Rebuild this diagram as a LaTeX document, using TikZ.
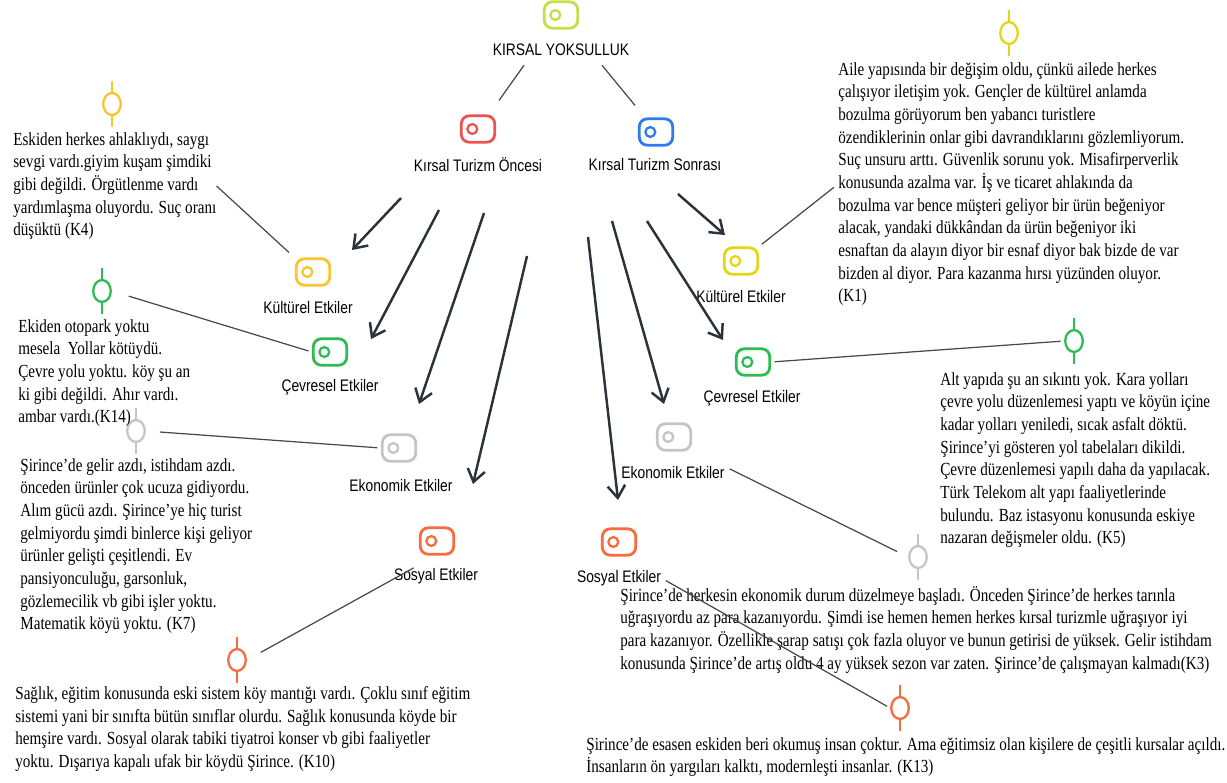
\documentclass[tikz,border=0pt]{standalone}
\usepackage{fontspec}
\setmainfont{Liberation Serif}[FakeStretch=0.82]
\setsansfont{Liberation Sans}[FakeStretch=0.83]
\usetikzlibrary{arrows.meta,shapes.geometric,calc,positioning}

\definecolor{rootc}{RGB}{196,222,72}
\definecolor{redc}{RGB}{236,82,82}
\definecolor{bluec}{RGB}{48,122,240}
\definecolor{ambc}{RGB}{250,196,42}
\definecolor{lemc}{RGB}{228,214,20}
\definecolor{grnc}{RGB}{44,188,82}
\definecolor{gryc}{RGB}{196,196,196}
\definecolor{orgc}{RGB}{246,108,62}
\definecolor{arrc}{RGB}{42,50,58}
\definecolor{linkc}{RGB}{72,72,72}

\tikzset{
  icon/.style={draw=#1, line width=1.6pt, rounded corners=4.5pt, minimum width=19pt, minimum height=15pt, inner sep=0pt,
    path picture={\draw[#1, line width=1.3pt] ($(path picture bounding box.west)+(11,0)$) circle (2.8pt);}},
  stud/.style={draw=#1, ellipse, line width=1.3pt, minimum width=10pt, minimum height=12.5pt, inner sep=0pt},
  lbl/.style={font=\sffamily\fontsize{9.5}{11}\selectfont, inner sep=0pt},
  note/.style={font=\fontsize{10.5}{12.9}\selectfont, align=left, anchor=north west, inner sep=0pt},
  link/.style={draw=linkc, line width=0.7pt},
  arr/.style={draw=arrc, line width=1.4pt, arrows={-Straight Barb[length=7pt,width=10pt]}},
}

\begin{document}
\begin{tikzpicture}[x=0.02cm, y=-0.02cm]
\useasboundingbox (0,0) rectangle (1227,782);

% top of the tree
\node[icon=rootc] (root) at (561,15) {};
\node[lbl] (rootT) at (561,50) {KIRSAL YOKSULLUK};
\node[icon=redc] (onc) at (478,129) {};
\node[lbl] (oncT) at (478,165) {Kırsal Turizm Öncesi};
\node[icon=bluec] (son) at (656,132) {};
\node[lbl] (sonT) at (655,165) {Kırsal Turizm Sonrası};
\draw[link] ($(rootT.south)+(-37,9)$) -- ($(onc.north)+(21,-14)$);
\draw[link] ($(rootT.south)+(41,9)$) -- ($(son.north)+(-21,-12)$);

% effects, left (oncesi) and right (sonrasi)
\foreach \n/\c/\x/\y/\lx/\ly/\t in {kulL/ambc/313/272/308/308/Kültürel Etkiler,
    cevL/grnc/330/352/330/387/Çevresel Etkiler,
    ekoL/gryc/399/448/401/486/Ekonomik Etkiler,
    sosL/orgc/437/541/436/576/Sosyal Etkiler,
    kulR/lemc/741/261/741/297/Kültürel Etkiler,
    cevR/grnc/753/362/752/398/Çevresel Etkiler,
    ekoR/gryc/674/437/673/473/Ekonomik Etkiler,
    sosR/orgc/619/542/619/578/Sosyal Etkiler}{
  \node[icon=\c] (\n) at (\x,\y) {};
  \node[lbl] (\n T) at (\lx,\ly) {\t};
}

% arrows
\foreach \i/\sx/\sy/\ex/\ey in {1/401/198/352/250, 2/439/210/371/339, 3/484/213/419/404, 4/527/256/473/484,
    5/678/194/725/235, 6/647/221/723/340, 7/612/221/664/404, 8/588/237/618/500}{
  \coordinate (s\i) at (\sx,\sy);
  \coordinate (e\i) at (\ex,\ey);
  \draw[arr] (s\i) -- (e\i);
}

% pins
\foreach \n/\c/\x/\y in {pYL/ambc/112/104, pGL/grnc/102/291, pEL/gryc/136/431, pOL/orgc/237/660,
    pYR/lemc/1009/33, pGR/grnc/1074/341, pER/gryc/918/557, pOR/orgc/900/708}{
  \node[stud=\c] (\n) at (\x,\y) {};
  \draw[\c, line width=1.3pt] (\n.north) -- ++(0,-11) (\n.south) -- ++(0,11);
}

% quotes
\node[note] (k4) at (13,132) {Eskiden herkes ahlaklıydı, saygı\\sevgi vardı.giyim kuşam şimdiki\\gibi değildi. Örgütlenme vardı\\yardımlaşma oluyordu. Suç oranı\\düşüktü (K4)};
\node[note] (k14) at (18,319) {Ekiden otopark yoktu\\mesela\ \ Yollar kötüydü.\\Çevre yolu yoktu. köy şu an\\ki gibi değildi. Ahır vardı.\\ambar vardı.(K14)};
\node[note] (k7) at (20,458) {Şirince’de gelir azdı, istihdam azdı.\\önceden ürünler çok ucuza gidiyordu.\\Alım gücü azdı. Şirince’ye hiç turist\\gelmiyordu şimdi binlerce kişi geliyor\\ürünler gelişti çeşitlendi. Ev\\pansiyonculuğu, garsonluk,\\gözlemecilik vb gibi işler yoktu.\\Matematik köyü yoktu. (K7)};
\node[note] (k10) at (15,686) {Sağlık, eğitim konusunda eski sistem köy mantığı vardı. Çoklu sınıf eğitim\\sistemi yani bir sınıfta bütün sınıflar olurdu. Sağlık konusunda köyde bir\\hemşire vardı. Sosyal olarak tabiki tiyatroi konser vb gibi faaliyetler\\yoktu. Dışarıya kapalı ufak bir köydü Şirince. (K10)};
\node[note] (k1) at (838,62) {Aile yapısında bir değişim oldu, çünkü ailede herkes\\çalışıyor iletişim yok. Gençler de kültürel anlamda\\bozulma görüyorum ben yabancı turistlere\\özendiklerinin onlar gibi davrandıklarını gözlemliyorum.\\Suç unsuru arttı. Güvenlik sorunu yok. Misafirperverlik\\konusunda azalma var. İş ve ticaret ahlakında da\\bozulma var bence müşteri geliyor bir ürün beğeniyor\\alacak, yandaki dükkândan da ürün beğeniyor iki\\esnaftan da alayın diyor bir esnaf diyor bak bizde de var\\bizden al diyor. Para kazanma hırsı yüzünden oluyor.\\(K1)};
\node[note] (k5) at (940,372) {Alt yapıda şu an sıkıntı yok. Kara yolları\\çevre yolu düzenlemesi yaptı ve köyün içine\\kadar yolları yeniledi, sıcak asfalt döktü.\\Şirince’yi gösteren yol tabelaları dikildi.\\Çevre düzenlemesi yapılı daha da yapılacak.\\Türk Telekom alt yapı faaliyetlerinde\\bulundu. Baz istasyonu konusunda eskiye\\nazaran değişmeler oldu. (K5)};
\node[note] (k3) at (620,586) {Şirince’de herkesin ekonomik durum düzelmeye başladı. Önceden Şirince’de herkes tarınla\\uğraşıyordu az para kazanıyordu. Şimdi ise hemen hemen herkes kırsal turizmle uğraşıyor iyi\\para kazanıyor. Özellikle şarap satışı çok fazla oluyor ve bunun getirisi de yüksek. Gelir istihdam\\konusunda Şirince’de artış oldu 4 ay yüksek sezon var zaten. Şirince’de çalışmayan kalmadı(K3)};
\node[note] (k13) at (586,737) {Şirince’de esasen eskiden beri okumuş insan çoktur. Ama eğitimsiz olan kişilere de çeşitli kursalar açıldı.\\İnsanların ön yargıları kalktı, modernleşti insanlar. (K13)};

% thin links
\draw[link] (k4.east) -- ($(kulL.north west)+(-6,-5)$);
\draw[link, shorten <=10pt, shorten >=2pt] (pGL.east) -- (cevL.west);
\draw[link, shorten <=8pt, shorten >=2pt] (pEL.east) -- (ekoL.west);
\draw[link, shorten <=9pt] (pOL.east) -- ($(sosLT.north west)+(20,0)$);
\draw[link, shorten <=2pt, shorten >=3pt] (kulR.north east) -- (k1.west);
\draw[link, shorten <=2pt, shorten >=2pt] (cevR.east) -- (pGR.west);
\draw[link, shorten <=3pt, shorten >=7pt] (ekoRT.north east) -- (pER.west);
\draw[link, shorten <=3pt, shorten >=2pt] (sosRT.east) -- (pOR.west);
\end{tikzpicture}
\end{document}
